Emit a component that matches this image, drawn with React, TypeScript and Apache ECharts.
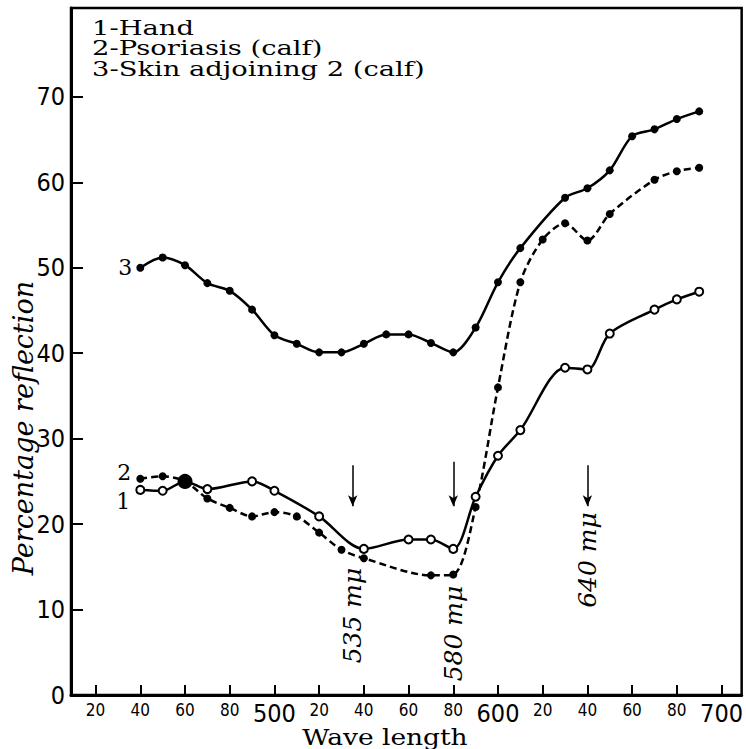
import React, { useEffect, useRef } from 'react';
import * as echarts from 'echarts';

// Series 1 – Hand (solid line, open circles)
const handWl = [440, 450, 460, 470, 490, 500, 520, 540, 560, 570, 580, 590, 600, 610, 630, 640, 650, 670, 680, 690];
const handVal = [24, 23.9, 25, 24.1, 25, 23.9, 20.9, 17.1, 18.2, 18.2, 17.1, 23.2, 28, 31, 38.3, 38.1, 42.3, 45.1, 46.3, 47.2];
// Series 2 – Psoriasis (calf) (dashed line, filled dots)
const psorWl = [440, 450, 460, 470, 480, 490, 500, 510, 520, 530, 540, 570, 580, 590, 600, 610, 620, 630, 640, 650, 670, 680, 690];
const psorVal = [25.3, 25.6, 25, 23, 21.9, 20.9, 21.4, 20.9, 19, 17, 16, 14, 14.1, 22, 36, 48.3, 53.3, 55.2, 53.2, 56.3, 60.3, 61.3, 61.7];
// Series 3 – Skin adjoining 2 (calf) (solid line, filled dots)
const skinWl = [440, 450, 460, 470, 480, 490, 500, 510, 520, 530, 540, 550, 560, 570, 580, 590, 600, 610, 630, 640, 650, 660, 670, 680, 690];
const skinVal = [50, 51.2, 50.3, 48.2, 47.3, 45.1, 42.1, 41.1, 40.1, 40.1, 41.1, 42.2, 42.2, 41.2, 40.1, 43, 48.3, 52.3, 58.2, 59.3, 61.4, 65.4, 66.2, 67.4, 68.3];

const xTicks = [420, 440, 460, 480, 500, 520, 540, 560, 580, 600, 620, 640, 660, 680, 700];
const yTicks = [0, 10, 20, 30, 40, 50, 60, 70];

const legendLines = ['1-Hand', '2-Psoriasis (calf)', '3-Skin adjoining 2 (calf)'];
const xName = 'Wave length';
const yName = 'Percentage reflection';

// Arrows marking wavelengths
const arrowWl = [535, 580, 640];
const arrowTop = [26.9, 27.3, 26.9];
const arrowBottom = [22.1, 22.1, 22.1];
const arrowText = ['535 mμ', '580 mμ', '640 mμ'];
const arrowTextY = [9.3, 7.2, 15.8];

export default function App() {
  const ref = useRef<HTMLDivElement>(null);
  useEffect(() => {
    if (!ref.current) return;
    const chart = echarts.init(ref.current, null, { renderer: 'svg' });
    const numFont = { fontFamily: 'DejaVu Serif', fontSize: 22, color: '#000' };
    const option: any = {
      animation: false,
      backgroundColor: '#fff',
      graphic: [
        ...legendLines.map((t, i) => ({
          type: 'text',
          x: 92,
          y: 28 + i * 20.7,
          scaleX: 1.44,
          scaleY: 1.05,
          style: { text: t, fontFamily: 'DejaVu Serif', fontSize: 19, fill: '#000', verticalAlign: 'middle', align: 'left' },
        })),
        {
          type: 'text',
          x: 385,
          y: 737,
          scaleX: 1.15,
          style: { text: xName, fontFamily: 'DejaVu Serif', fontSize: 23, fill: '#000', align: 'center', verticalAlign: 'middle' },
        },
        {
          type: 'text',
          x: 23,
          y: 428,
          rotation: Math.PI / 2,
          style: { text: yName, fontFamily: 'DejaVu Serif', fontStyle: 'italic', fontSize: 27, fill: '#000', align: 'center', verticalAlign: 'middle' },
        },
      ],
      grid: { left: 71, right: 4, top: 8, bottom: 54, show: true, borderColor: '#000', borderWidth: 2.5, backgroundColor: 'transparent' },
      xAxis: {
        type: 'value',
        min: 409,
        max: 709,
        axisLine: { show: true, lineStyle: { color: '#000', width: 3 } },
        axisTick: { show: true, inside: true, length: 10, customValues: xTicks, lineStyle: { color: '#000', width: 2 } },
        axisLabel: {
          customValues: xTicks,
          margin: 6,
          formatter: (v: number) => (v % 100 === 0 ? `{big|${v}}` : `{small|${v % 100}}`),
          rich: {
            big: { fontFamily: 'DejaVu Sans Condensed', fontSize: 25, color: '#000' },
            small: { fontFamily: 'DejaVu Sans Condensed', fontSize: 17, color: '#000' },
          },
        },
        splitLine: { show: false },
      },
      yAxis: {
        type: 'value',
        min: 0,
        max: 80.4,
        axisLine: { show: true, lineStyle: { color: '#000', width: 3 } },
        axisTick: { show: true, inside: true, length: 12, customValues: yTicks, lineStyle: { color: '#000', width: 2 } },
        axisLabel: { customValues: yTicks, margin: 6, fontFamily: 'DejaVu Sans Condensed', fontSize: 25, color: '#000' },
        splitLine: { show: false },
      },
      series: [
        {
          name: 'Skin adjoining 2 (calf)',
          type: 'line',
          smooth: 0.3,
          symbol: 'circle',
          symbolSize: 8,
          itemStyle: { color: '#000' },
          lineStyle: { color: '#000', width: 2.5 },
          data: skinWl.map((x, i) =>
            i === 0
              ? { value: [x, skinVal[i]], label: { show: true, position: 'left', distance: 4, formatter: '3', ...numFont } }
              : [x, skinVal[i]]
          ),
          z: 2,
        },
        {
          name: 'Psoriasis (calf)',
          type: 'line',
          smooth: 0.3,
          symbol: 'circle',
          symbolSize: 8,
          itemStyle: { color: '#000' },
          lineStyle: { color: '#000', width: 2.5, type: [7, 4] },
          data: psorWl.map((x, i) =>
            i === 0
              ? { value: [x, psorVal[i]], label: { show: true, position: 'left', distance: 5, offset: [0, -6], formatter: '2', ...numFont } }
              : [x, psorVal[i]]
          ),
          z: 3,
        },
        {
          name: 'Hand',
          type: 'line',
          smooth: 0.3,
          symbol: 'circle',
          symbolSize: 8,
          itemStyle: { color: '#fff', borderColor: '#000', borderWidth: 2 },
          lineStyle: { color: '#000', width: 2.5 },
          data: handWl.map((x, i) => {
            if (i === 0)
              return { value: [x, handVal[i]], label: { show: true, position: 'left', distance: 5, offset: [0, 12], formatter: '1', ...numFont } };
            if (x === 460)
              return { value: [x, handVal[i]], symbolSize: 13, itemStyle: { color: '#000', borderColor: '#000' } };
            return [x, handVal[i]];
          }),
          z: 4,
        },
        {
          name: 'arrows',
          type: 'scatter',
          symbol: 'circle',
          symbolSize: 0,
          itemStyle: { color: '#000', opacity: 1 },
          data: arrowWl.map((x, i) => [x, arrowTextY[i]]),
          label: {
            show: true,
            position: 'inside',
            rotate: 90,
            formatter: (p: any) => arrowText[p.dataIndex],
            fontFamily: 'DejaVu Serif',
            fontStyle: 'italic',
            fontSize: 25,
            color: '#000',
            opacity: 1,
            textBorderWidth: 0,
          },
          emphasis: { disabled: true },
          markLine: {
            silent: true,
            symbol: ['none', 'arrow'],
            symbolSize: [7, 11],
            label: { show: false },
            lineStyle: { color: '#000', width: 1.5, type: 'solid', opacity: 1 },
            data: arrowWl.map((x, i) => [{ coord: [x, arrowTop[i]] }, { coord: [x, arrowBottom[i]] }]),
          },
          z: 5,
        },
      ],
    };
    chart.setOption(option);
    return () => chart.dispose();
  }, []);
  return <div ref={ref} style={{ width: 746, height: 749, position: 'absolute', left: 0, top: 0 }} />;
}
